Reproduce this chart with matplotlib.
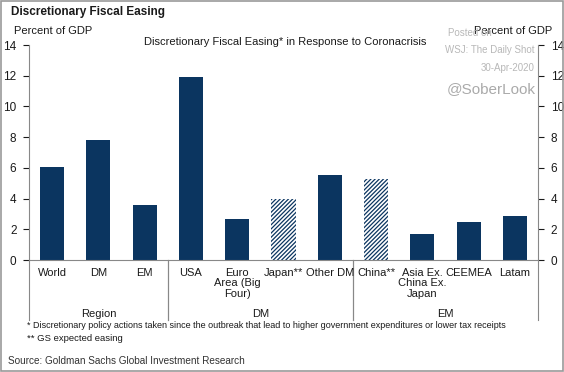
import matplotlib
matplotlib.use("Agg")
import matplotlib.pyplot as plt
from matplotlib.patches import Rectangle

plt.rcParams["font.family"] = ["Liberation Sans", "DejaVu Sans"]
plt.rcParams["hatch.linewidth"] = 0.9

categories = ["World", "DM", "EM", "USA", "Euro\nArea (Big\nFour)", "Japan**",
              "Other DM", "China**", "Asia Ex.\nChina Ex.\nJapan", "CEEMEA", "Latam"]
values = [6.05, 7.8, 3.6, 11.9, 2.65, 4.0, 5.55, 5.3, 1.7, 2.45, 2.85]
hatched = [False, False, False, False, False, True, False, True, False, False, False]
groups = ["Region", "DM", "EM"]
group_bounds = [(-0.5, 2.5), (2.5, 6.5), (6.5, 10.5)]
yticks = [0, 2, 4, 6, 8, 10, 12, 14]

NAVY = "#0B3560"
TXT = "#1a1a1a"

fig = plt.figure(figsize=(5.64, 3.72), dpi=100)
ax = fig.add_axes([0.0514, 0.301, 0.9026, 0.578])

for i, (v, h) in enumerate(zip(values, hatched)):
    if h:
        ax.bar(i, v, width=0.52, color="white", edgecolor=NAVY, hatch="////////", linewidth=0)
    else:
        ax.bar(i, v, width=0.52, color=NAVY, linewidth=0)

ax.set_xlim(-0.5, len(categories) - 0.5)
ax.set_ylim(0, 14)
ax.set_yticks(yticks)
ax.tick_params(axis="y", labelsize=8.5, colors=TXT, direction="out", length=4,
               left=True, right=True, labelleft=True, labelright=True, pad=5)
ax.set_xticks([])
for s in ["left", "right", "bottom"]:
    ax.spines[s].set_color("#888888")
    ax.spines[s].set_linewidth(0.8)
ax.spines["top"].set_visible(False)

# category labels
trans = ax.get_xaxis_transform()
for i, c in enumerate(categories):
    ax.text(i, -0.035, c, transform=trans, ha="center", va="top", fontsize=8,
            color=TXT, linespacing=1.1)

# group separators and labels
for lo, hi in group_bounds:
    for b in (lo, hi):
        ax.plot([b, b], [0, -0.278], transform=trans, color="#888888", lw=0.8, clip_on=False)
for g, (lo, hi) in zip(groups, group_bounds):
    ax.text((lo + hi) / 2, -0.251, g, transform=trans, ha="center", va="center",
            fontsize=8, color=TXT)

# texts
fig.text(0.02, 0.968, "Discretionary Fiscal Easing", fontsize=8.5, fontweight="bold",
         ha="left", va="center", color=TXT)
fig.text(0.025, 0.918, "Percent of GDP", fontsize=8, ha="left", va="center", color=TXT)
fig.text(0.98, 0.918, "Percent of GDP", fontsize=8, ha="right", va="center", color=TXT)
fig.text(0.505, 0.888, "Discretionary Fiscal Easing* in Response to Coronacrisis",
         fontsize=8, ha="center", va="center", color=TXT)
fig.text(0.048, 0.126, "* Discretionary policy actions taken since the outbreak that lead to "
         "higher government expenditures or lower tax receipts", fontsize=6.5,
         ha="left", va="center", color=TXT)
fig.text(0.048, 0.091, "** GS expected easing", fontsize=6.8, ha="left", va="center", color=TXT)
fig.text(0.015, 0.03, "Source: Goldman Sachs Global Investment Research", fontsize=7.2,
         ha="left", va="center", color="#333333")

# watermark
fig.text(0.795, 0.911, "Posted on", fontsize=7, color="#b8b8b8", ha="left", va="center")
fig.text(0.947, 0.865, "WSJ: The Daily Shot", fontsize=7, color="#b8b8b8", ha="right", va="center")
fig.text(0.947, 0.817, "30-Apr-2020", fontsize=7, color="#b8b8b8", ha="right", va="center")
fig.text(0.95, 0.762, "@SoberLook", fontsize=11, color="#aaaaaa", ha="right", va="center")

# frame
fig.add_artist(Rectangle((0.002, 0.003), 0.996, 0.994, transform=fig.transFigure,
                         fill=False, edgecolor="#999999", lw=1.2))

fig.savefig("out.png", dpi=100)
